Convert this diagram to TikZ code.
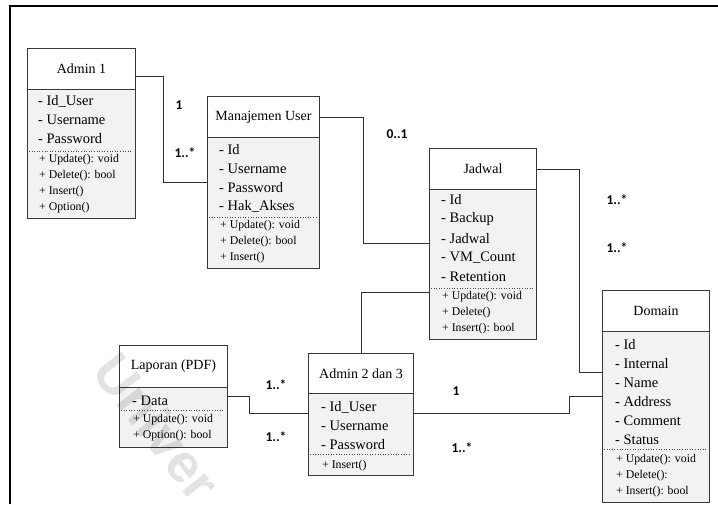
\documentclass[tikz,border=0pt]{standalone}
\usepackage{fontspec}
\setmainfont{Liberation Serif}
\newfontfamily\lblfont{Carlito}
\newfontfamily\wmfont{Liberation Sans}
\usetikzlibrary{calc}
\definecolor{boxc}{HTML}{383838}
\definecolor{bodyc}{HTML}{F2F2F2}
\definecolor{linec}{HTML}{303030}
\begin{document}
\begin{tikzpicture}[x=1pt,y=-1pt,
  hdr/.style={draw=boxc, fill=white, line width=0.9pt, inner sep=0pt, anchor=north west,
    font=\fontsize{14}{16}\selectfont},
  bdy/.style={draw=boxc, fill=bodyc, line width=0.9pt, inner sep=0pt, anchor=north west},
  attr/.style={anchor=west, inner sep=0pt, font=\fontsize{14.5}{16}\selectfont},
  meth/.style={anchor=west, inner sep=0pt, font=\fontsize{11.8}{14}\selectfont},
  sep/.style={draw=black!70, dotted, line width=0.6pt},
  conn/.style={draw=linec, line width=0.9pt},
  mult/.style={inner sep=0pt, font=\lblfont\bfseries\fontsize{13.5}{15}\selectfont}]
\useasboundingbox (0,0) rectangle (718,504);
\fill[white] (0,0) rectangle (718,504);
% frame
\draw[line width=2.6pt] (10,504) -- (10,6) -- (718,6);

% Admin 1
\node[hdr, minimum width=108pt, minimum height=41pt] (a1h) at (27,48) {Admin 1};
\node[bdy, minimum width=108pt, minimum height=129pt] (a1b) at (27,89) {};
\foreach \t [count=\i] in {- Id\_User, - Username, - Password}
  \node[attr] (a1a\i) at (38,{101+19*(\i-1)}) {\t};
\draw[sep] (29,151) -- (133,151);
\foreach \t [count=\i] in {+ Update(): void, + Delete(): bool, + Insert(), + Option()}
  \node[meth] (a1m\i) at (39,{160+16*(\i-1)}) {\t};

% Manajemen User
\node[hdr, minimum width=112pt, minimum height=41pt] (muh) at (207,96) {Manajemen User};
\node[bdy, minimum width=112pt, minimum height=131pt] (mub) at (207,137) {};
\foreach \t [count=\i] in {- Id, - Username, - Password, - Hak\_Akses}
  \node[attr] (mua\i) at (219,{150+18.7*(\i-1)}) {\t};
\draw[sep] (209,217) -- (317,217);
\foreach \t [count=\i] in {+ Update(): void, + Delete(): bool, + Insert()}
  \node[meth] (mum\i) at (220,{226+16*(\i-1)}) {\t};

% Jadwal
\node[hdr, minimum width=107pt, minimum height=41pt] (jah) at (429,148) {Jadwal};
\node[bdy, minimum width=107pt, minimum height=150pt] (jab) at (429,189) {};
\foreach \t [count=\i] in {- Id, - Backup, - Jadwal, - VM\_Count, - Retention}
  \node[attr] (jaa\i) at (441,{200+19.25*(\i-1)}) {\t};
\draw[sep] (431,288) -- (534,288);
\foreach \t [count=\i] in {+ Update(): void, + Delete(), + Insert(): bool}
  \node[meth] (jam\i) at (442,{297+16*(\i-1)}) {\t};

% Domain
\node[hdr, minimum width=107pt, minimum height=41pt] (doh) at (602,290) {Domain};
\node[bdy, minimum width=107pt, minimum height=171pt] (dob) at (602,331) {};
\foreach \t [count=\i] in {- Id, - Internal, - Name, - Address, - Comment, - Status}
  \node[attr] (doa\i) at (615,{345+19*(\i-1)}) {\t};
\draw[sep] (604,449) -- (707,449);
\foreach \t [count=\i] in {+ Update(): void, + Delete():, + Insert(): bool}
  \node[meth] (dom\i) at (616,{460+16*(\i-1)}) {\t};

% Admin 2 dan 3
\node[hdr, minimum width=105pt, minimum height=40pt] (a2h) at (308,353) {Admin 2 dan 3};
\node[bdy, minimum width=105pt, minimum height=82pt] (a2b) at (308,393) {};
\foreach \t [count=\i] in {- Id\_User, - Username, - Password}
  \node[attr] (a2a\i) at (321,{407+19*(\i-1)}) {\t};
\draw[sep] (310,454) -- (411,454);
\node[meth] (a2m1) at (322,466) {+ Insert()};

% Laporan (PDF)
\node[hdr, minimum width=108pt, minimum height=42pt] (lah) at (119,345) {Laporan (PDF)};
\node[bdy, minimum width=108pt, minimum height=60pt] (lab) at (119,387) {};
\node[attr] (laa1) at (132,401) {- Data};
\draw[sep] (121,410) -- (225,410);
\foreach \t [count=\i] in {+ Update(): void, + Option(): bool}
  \node[meth] (lam\i) at (133,{420+16*(\i-1)}) {\t};

% connectors
\draw[conn] ([yshift=-28pt]a1h.north east) -- ++(28,0) |- ([yshift=-45pt]mub.north west);
\draw[conn] (muh.east) -- ++(44,0) |- ([yshift=-54pt]jab.north west);
\draw[conn] (jah.east) -- ++(43,0) |- ([yshift=-41pt]dob.north west);
\draw[conn] ([yshift=-103pt]jab.north west) -| (a2h.north);
\draw[conn] ([yshift=-20pt]a2b.north east) -- ++(156,0) |- ([yshift=-65pt]dob.north west);
\draw[conn] ([yshift=-9pt]lab.north east) -- ++(22,0) |- ([yshift=-20pt]a2b.north west);

% multiplicities
\node[mult] (m1) at (179,105) {1};
\node[mult] (m2) at (185,153) {1..*};
\node[mult] (m3) at (397,134) {0..1};
\node[mult] (m4) at (617,200) {1..*};
\node[mult] (m5) at (617,248) {1..*};
\node[mult] (m6) at (456,391) {1};
\node[mult] (m7) at (462,448) {1..*};
\node[mult] (m8) at (276,385) {1..*};
\node[mult] (m9) at (276,437) {1..*};

% watermark (faint, over the drawing)
\begin{scope}
\clip (0,0) rectangle (718,504);
\node[anchor=base west, rotate=-52, text=black, opacity=0.11, inner sep=0pt,
  font=\wmfont\bfseries\fontsize{54}{54}\selectfont] (wm) at (90,372) {Univer};
\end{scope}
\end{tikzpicture}
\end{document}
